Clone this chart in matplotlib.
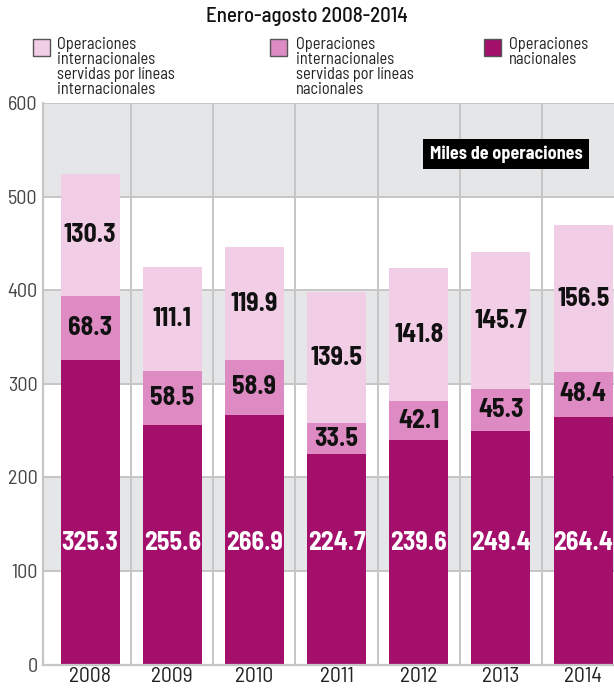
import matplotlib.pyplot as plt
from matplotlib.patches import Rectangle

years = ["2008", "2009", "2010", "2011", "2012", "2013", "2014"]
nacionales = [325.3, 255.6, 266.9, 224.7, 239.6, 249.4, 264.4]
intl_lineas_nac = [68.3, 58.5, 58.9, 33.5, 42.1, 45.3, 48.4]
intl_lineas_intl = [130.3, 111.1, 119.9, 139.5, 141.8, 145.7, 156.5]

series_names = [
    "Operaciones\ninternacionales\nservidas por líneas\ninternacionales",
    "Operaciones\ninternacionales\nservidas por líneas\nnacionales",
    "Operaciones\nnacionales",
]
c_light = "#f2cde6"
c_mid = "#de8bc4"
c_dark = "#a30f6b"
band = "#e5e6e8"
grid_c = "#c6c6c6"

plt.rcParams["font.family"] = ["Barlow Semi Condensed", "DejaVu Sans"]

fig = plt.figure(figsize=(6.14, 6.88), dpi=100)
ax = fig.add_axes([43 / 614, 23.5 / 688, 1 - 43 / 614, 561.5 / 688])

x = list(range(len(years)))
w = 0.718

# alternating background bands
for lo in (100, 300, 500):
    ax.axhspan(lo, lo + 100, color=band, zorder=0, lw=0)
for y in range(100, 601, 100):
    ax.axhline(y, color=grid_c, lw=1.4, zorder=1)
for i in range(len(years) - 1):
    ax.axvline(i + 0.5, color=grid_c, lw=1.4, zorder=1)

mid_bottom = nacionales
top_bottom = [a + b for a, b in zip(nacionales, intl_lineas_nac)]
ax.bar(x, nacionales, w, color=c_dark, zorder=2)
ax.bar(x, intl_lineas_nac, w, bottom=mid_bottom, color=c_mid, zorder=2)
ax.bar(x, intl_lineas_intl, w, bottom=top_bottom, color=c_light, zorder=2)

lbl = dict(ha="center", va="center", fontsize=18.5, fontweight="bold", zorder=3)
for i in x:
    ax.text(i, 130, f"{nacionales[i]:.1f}", color="white", **lbl)
    ax.text(i, mid_bottom[i] + intl_lineas_nac[i] / 2, f"{intl_lineas_nac[i]:.1f}",
            color="#111111", **lbl)
    ax.text(i, top_bottom[i] + intl_lineas_intl[i] / 2, f"{intl_lineas_intl[i]:.1f}",
            color="#111111", **lbl)

ax.set_xlim(-0.572, 6.375)
ax.set_ylim(0, 600)
ax.set_yticks(range(0, 601, 100))
ax.set_xticks(x)
ax.set_xticklabels(years)
ax.tick_params(length=0, colors="#333333")
ax.tick_params(axis="y", pad=4, labelsize=14.5, labelcolor="#444444")
ax.tick_params(axis="x", pad=2, labelsize=15.5, labelcolor="#222222")
for s in ("top", "right"):
    ax.spines[s].set_visible(False)
for s in ("left", "bottom"):
    ax.spines[s].set_color(grid_c)
    ax.spines[s].set_linewidth(1.6)

ax.text(0.811, 0.909, "Miles de operaciones", transform=ax.transAxes,
        ha="center", va="center", color="white", fontsize=13,
        fontweight="bold", zorder=4,
        bbox=dict(facecolor="black", edgecolor="none", pad=4.5))

fig.text(0.5, 1 - 17 / 688, "Enero-agosto 2008-2014", ha="center", va="center",
         fontsize=15, fontweight="medium", color="#111111")

# legend drawn by hand: three columns with multi-line labels
legend_cols = [(33, 57), (270, 296), (484, 509)]
for (sx, tx), name, col in zip(legend_cols, series_names, [c_light, c_mid, c_dark]):
    fig.patches.append(Rectangle((sx / 614, 1 - 56 / 688), 17 / 614, 17 / 688,
                                 transform=fig.transFigure, facecolor=col,
                                 edgecolor="#555555", lw=1.0))
    fig.text(tx / 614, 1 - 37 / 688, name, ha="left", va="top",
             fontsize=11.8, color="#222222", linespacing=1.0)

fig.savefig("out.png", dpi=100)
